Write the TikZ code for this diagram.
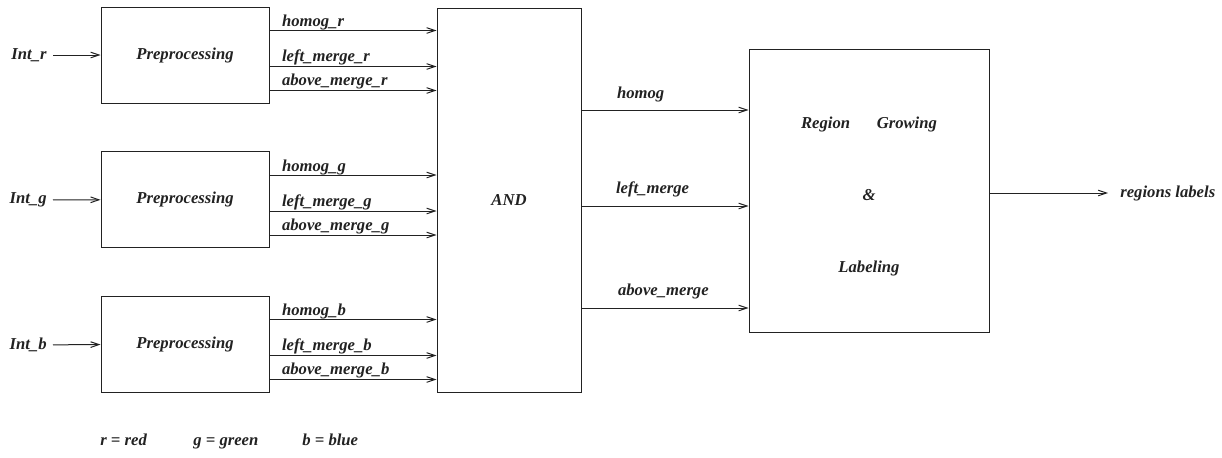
\documentclass[tikz,border=0pt]{standalone}
\usepackage{fontspec}
\setmainfont{Liberation Serif}
\usetikzlibrary{arrows.meta,positioning,calc}
\definecolor{ink}{HTML}{222222}
\tikzset{
  procbox/.style={draw=ink, line width=0.6pt, fill=white, font=\bfseries\itshape, text=ink, minimum width=100.8pt, minimum height=57.6pt, inner sep=0pt},
  andbox/.style={procbox, minimum width=86.4pt, minimum height=230.4pt},
  growbox/.style={procbox, minimum width=144pt, minimum height=169.8pt},
  lbl/.style={font=\bfseries\itshape, text=ink, inner sep=0pt},
  arrow/.style={-{Straight Barb[length=5pt,width=3.4pt]}, line width=0.6pt, draw=ink}
}
\begin{document}
\begin{tikzpicture}[x=0.6pt, y=-0.6pt]
\useasboundingbox (0,0) rectangle (1222,457);
\node[procbox] (pre_r) at (185,55) {Preprocessing};
\node[procbox] (pre_g) at (185,199.5) {Preprocessing};
\node[procbox] (pre_b) at (185,344) {Preprocessing};
\node[andbox] (andb) at (509,200) {AND};
\node[growbox] (grow) at (869,190.5) {};
\node[lbl, align=center, font=\bfseries\itshape\fontsize{10}{43.2}\selectfont] (grow_txt) at (869,196) {Region\hspace{16pt}Growing\\\&\\Labeling};
\node[lbl, anchor=east, inner xsep=3.6pt] (in_r) at (53,55) {Int\_r};
\node[lbl, anchor=east, inner xsep=3.6pt] (in_g) at (53,200) {Int\_g};
\node[lbl, anchor=east, inner xsep=3.6pt] (in_b) at (53,345) {Int\_b};
\draw[arrow] (in_r) -- (pre_r); \draw[arrow] (in_g) -- (pre_g); \draw[arrow] (in_b) -- (pre_b);
\draw[arrow] ($(pre_r.north east)+(0,24)$) coordinate (hr) -- (hr -| andb.west) node[lbl, pos=0, anchor=base west, shift={(12,-4)}] (l_hr) {homog\_r};
\draw[arrow] ($(pre_r.north east)+(0,60)$) coordinate (lr) -- (lr -| andb.west) node[lbl, pos=0, anchor=base west, shift={(12,-5)}] (l_lr) {left\_merge\_r};
\draw[arrow] ($(pre_r.north east)+(0,84)$) coordinate (ar) -- (ar -| andb.west) node[lbl, pos=0, anchor=base west, shift={(12,-5)}] (l_ar) {above\_merge\_r};
\draw[arrow] ($(pre_g.north east)+(0,24)$) coordinate (hg) -- (hg -| andb.west) node[lbl, pos=0, anchor=base west, shift={(12,-4)}] (l_hg) {homog\_g};
\draw[arrow] ($(pre_g.north east)+(0,60)$) coordinate (lg) -- (lg -| andb.west) node[lbl, pos=0, anchor=base west, shift={(12,-5)}] (l_lg) {left\_merge\_g};
\draw[arrow] ($(pre_g.north east)+(0,84)$) coordinate (ag) -- (ag -| andb.west) node[lbl, pos=0, anchor=base west, shift={(12,-5)}] (l_ag) {above\_merge\_g};
\draw[arrow] ($(pre_b.north east)+(0,24)$) coordinate (hb) -- (hb -| andb.west) node[lbl, pos=0, anchor=base west, shift={(12,-4)}] (l_hb) {homog\_b};
\draw[arrow] ($(pre_b.north east)+(0,60)$) coordinate (lb) -- (lb -| andb.west) node[lbl, pos=0, anchor=base west, shift={(12,-5)}] (l_lb) {left\_merge\_b};
\draw[arrow] ($(pre_b.north east)+(0,84)$) coordinate (ab) -- (ab -| andb.west) node[lbl, pos=0, anchor=base west, shift={(12,-5)}] (l_ab) {above\_merge\_b};
\draw[arrow] (andb.east |- 0,110) coordinate (ho) -- (ho -| grow.west) node[lbl, pos=0, anchor=base west, shift={(35,-12)}] (l_ho) {homog};
\draw[arrow] (andb.east |- 0,206) coordinate (lm) -- (lm -| grow.west) node[lbl, pos=0, anchor=base west, shift={(34,-13)}] (l_lm) {left\_merge};
\draw[arrow] (andb.east |- 0,308) coordinate (am) -- (am -| grow.west) node[lbl, pos=0, anchor=base west, shift={(36,-13)}] (l_am) {above\_merge};
\node[lbl, anchor=west, inner xsep=7.2pt] (out) at (1108,193) {regions labels};
\draw[arrow] (grow.east |- out) -- (out);
\node[lbl, anchor=base west] (leg_r) at (100,445) {r = red};
\node[lbl, anchor=base west] (leg_g) at (193,445) {g = green};
\node[lbl, anchor=base west] (leg_b) at (302,445) {b = blue};
\end{tikzpicture}
\end{document}
